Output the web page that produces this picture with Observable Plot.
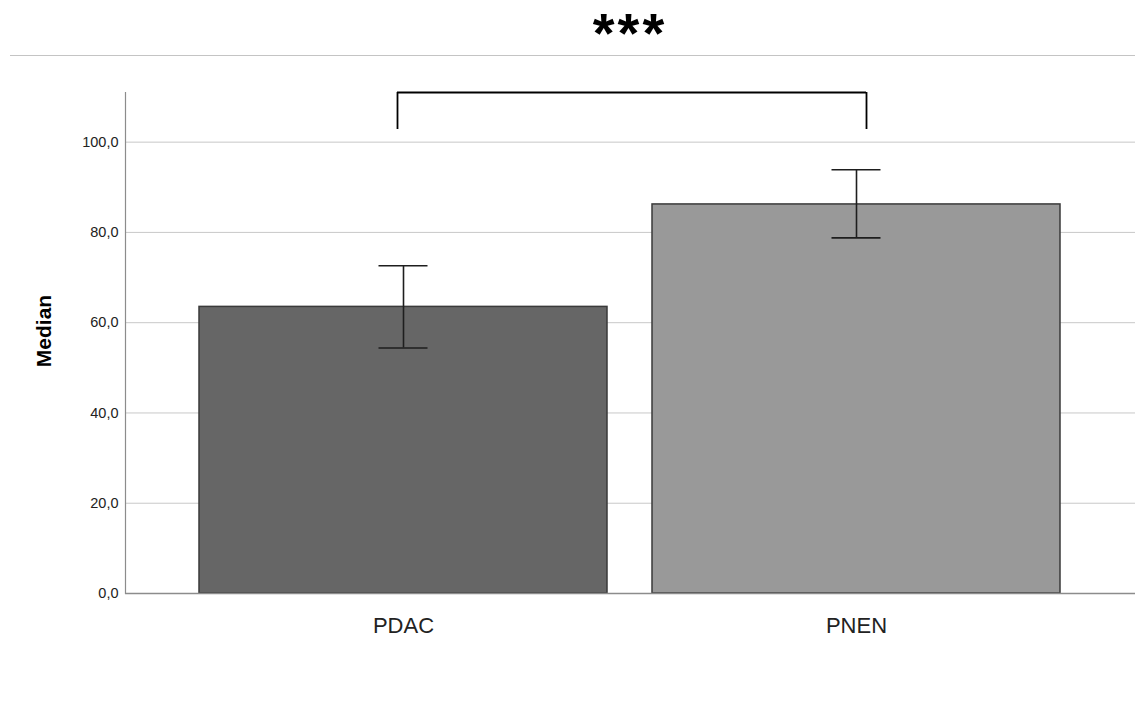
<!DOCTYPE html>
<html>
<head>
<meta charset="utf-8">
<script src="https://cdn.jsdelivr.net/npm/d3@7"></script>
<script src="https://cdn.jsdelivr.net/npm/@observablehq/plot@0.6"></script>
<style>
  html, body { margin: 0; padding: 0; background: #fff; }
  body { width: 1135px; height: 713px; position: relative; overflow: hidden; font-family: "Liberation Sans", Arial, sans-serif; }
  #title { position: absolute; left: 125px; width: 1010px; top: 5px; text-align: center; font-weight: bold; font-size: 56px; line-height: 56px; letter-spacing: 3px; color: #000; }
  #rule { position: absolute; left: 10px; right: 0; top: 54.5px; height: 0; border-top: 1.5px solid #c4c4c4; }
  #chart { position: absolute; left: 0; top: 0; }
</style>
</head>
<body>
<div id="chart"></div>
<div id="rule"></div>
<div id="title"></div>
<script>
// ---- data ----
const groups = ["PDAC", "PNEN"];
const medians = [63.5, 86.2];
const ciLow = [54.4, 78.8];
const ciHigh = [72.6, 93.9];
const yTicks = [0, 20, 40, 60, 80, 100];
const yLabel = "Median";
const significance = "***";
const bracketLow = 102.8;
const bracketHigh = 111;
const yMax = 111;
const barFills = ["#666666", "#999999"];

const rows = groups.map((g, i) => ({group: g, median: medians[i], lo: ciLow[i], hi: ciHigh[i]}));
const bracketTop = [{y: bracketHigh, from: groups[0], to: groups[1]}];
const bracketSides = groups.map(g => ({group: g, lo: bracketLow, hi: bracketHigh}));

document.getElementById("title").textContent = significance;

const chart = Plot.plot({
  width: 1135,
  height: 713,
  marginTop: 92,
  marginBottom: 120,
  marginLeft: 125,
  marginRight: 0,
  style: {fontFamily: "'Liberation Sans', Arial, sans-serif", color: "#222", background: "#fff"},
  x: {domain: groups, type: "band", paddingInner: 0.099, paddingOuter: 0.162, align: 0.5, axis: null},
  y: {domain: [0, yMax], axis: null},
  color: {domain: groups, range: barFills},
  marks: [
    Plot.gridY(yTicks.filter(d => d > 0), {stroke: "#c8c8c8", strokeOpacity: 1, strokeWidth: 1}),
    Plot.frame({anchor: "left", stroke: "#8c8c8c", strokeWidth: 1.2}),
    Plot.barY(rows, {x: "group", y: "median", fill: "group", stroke: "#3a3a3a", strokeWidth: 1.5}),
    Plot.ruleY([0], {stroke: "#8c8c8c", strokeWidth: 1.5}),
    Plot.ruleX(rows, {x: "group", y1: "lo", y2: "hi", stroke: "#1e1e1e", strokeWidth: 1.6}),
    Plot.tickY(rows, {x: "group", y: "lo", stroke: "#1e1e1e", strokeWidth: 1.6, insetLeft: 179.5, insetRight: 179.5}),
    Plot.tickY(rows, {x: "group", y: "hi", stroke: "#1e1e1e", strokeWidth: 1.6, insetLeft: 179.5, insetRight: 179.5}),
    // significance bracket
    Plot.ruleX([bracketSides[0]], {x: "group", y1: "lo", y2: "hi", dx: -6, stroke: "#000", strokeWidth: 1.8}),
    Plot.ruleX([bracketSides[1]], {x: "group", y1: "lo", y2: "hi", dx: 10, stroke: "#000", strokeWidth: 1.8}),
    Plot.ruleY(bracketTop, {y: "y", x1: "from", x2: "to", insetLeft: 198, insetRight: 194, stroke: "#000", strokeWidth: 1.8}),
    Plot.axisY({ticks: yTicks, tickSize: 0, tickPadding: 7, fontSize: 14.5, label: null,
      tickFormat: d => d.toFixed(1).replace(".", ",")}),
    Plot.axisX({tickSize: 0, tickPadding: 24, fontSize: 22, label: null}),
    Plot.text([yLabel], {frameAnchor: "left", textAnchor: "middle", rotate: -90, dx: -81, dy: -12, fontSize: 21, fontWeight: "bold", fill: "#000"})
  ]
});
document.getElementById("chart").appendChild(chart);
</script>
</body>
</html>
